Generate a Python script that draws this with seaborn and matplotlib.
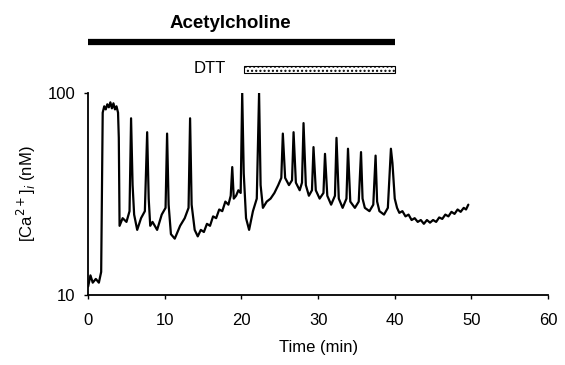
import matplotlib
matplotlib.use("Agg")
import matplotlib.pyplot as plt
import matplotlib.transforms as mtransforms
from matplotlib.patches import Rectangle
import seaborn as sns
import pandas as pd

# ---- data ----
time_min = [0, 0.3, 0.6, 1.0, 1.4, 1.7, 1.9, 2.1, 2.3, 2.5, 2.7, 2.9, 3.1, 3.3,
            3.5, 3.7, 3.9, 4.0, 4.1, 4.5, 5.0, 5.4, 5.6, 5.8, 6.0, 6.4, 6.9, 7.4,
            7.7, 7.9, 8.1, 8.4, 9.0, 9.6, 10.1, 10.3, 10.5, 10.8, 11.3, 12.0, 12.6,
            13.1, 13.3, 13.5, 13.9, 14.3, 14.7, 15.1, 15.5, 15.9, 16.3, 16.7, 17.1,
            17.5, 17.9, 18.3, 18.6, 18.8, 19.0, 19.3, 19.6, 19.9, 20.1, 20.3, 20.6,
            21.0, 21.5, 22.0, 22.3, 22.5, 22.8, 23.3, 23.8, 24.3, 24.8, 25.2, 25.4,
            25.7, 26.2, 26.6, 26.8, 27.1, 27.6, 27.9, 28.1, 28.4, 28.8, 29.2, 29.4,
            29.7, 30.2, 30.7, 30.9, 31.2, 31.7, 32.2, 32.4, 32.7, 33.2, 33.7, 33.9,
            34.2, 34.8, 35.3, 35.6, 35.8, 36.1, 36.7, 37.2, 37.5, 37.7, 38.0, 38.6,
            39.1, 39.5, 39.7, 40.0, 40.3, 40.6, 41.0, 41.4, 41.8, 42.2, 42.6, 43.0,
            43.4, 43.8, 44.2, 44.6, 45.0, 45.4, 45.8, 46.2, 46.6, 47.0, 47.4, 47.8,
            48.2, 48.6, 49.0, 49.3, 49.6]
ca_nM = [11, 12.5, 11.5, 12, 11.5, 13, 80, 86, 83, 88, 85, 90, 84, 89,
         83, 86, 80, 60, 22, 24, 23, 26, 75, 35, 25, 21, 24, 26,
         64, 30, 22, 23, 21, 25, 27, 63, 28, 20, 19, 22, 24,
         27, 75, 28, 21, 19.5, 21, 20.5, 22.5, 22, 24.5, 24, 26.5,
         26, 29, 28, 31, 43, 30, 31, 33, 32, 100, 40, 24,
         21, 26, 30, 100, 35, 27, 29, 30, 32, 35, 38, 63,
         38, 35, 37, 64, 36, 33, 36, 71, 35, 31, 33, 54,
         33, 30, 32, 50, 31, 28, 31, 60, 30, 27, 30, 53,
         29, 27, 29, 51, 30, 27, 26, 28, 49, 29, 26, 25,
         27, 53, 45, 30, 27, 25.5, 26, 24.5, 25, 23.5, 24, 23,
         23.5, 22.5, 23.5, 22.8, 23.5, 23, 24.2, 23.8, 25, 24.5, 25.8, 25.2,
         26.5, 25.8, 27, 26.5, 28]

x_ticks = [0, 10, 20, 30, 40, 50, 60]
y_ticks = [10, 100]
ach_span = (0, 40)
dtt_span = (20.3, 40)

df = pd.DataFrame({"Time (min)": time_min, "Ca": ca_nM})

sns.set_theme(style="ticks")
plt.rcParams["font.family"] = ["Liberation Sans", "DejaVu Sans"]

fig = plt.figure(figsize=(5.65, 3.65), dpi=100)
ax = fig.add_axes([0.156, 0.192, 0.814, 0.553])

sns.lineplot(data=df, x="Time (min)", y="Ca", ax=ax, color="black",
             linewidth=1.6, estimator=None, sort=False)

ax.set_yscale("log")
ax.set_xlim(0, 60)
ax.set_ylim(10, 100)
ax.set_xticks(x_ticks)
ax.set_xticklabels([str(v) for v in x_ticks])
ax.set_yticks(y_ticks)
ax.set_yticklabels([str(v) for v in y_ticks])
ax.yaxis.set_minor_locator(matplotlib.ticker.NullLocator())
ax.tick_params(axis="both", labelsize=12, length=3, width=1, colors="black")
ax.tick_params(axis="x", pad=10)
ax.tick_params(axis="y", pad=6)
ax.set_xlabel("Time (min)", fontsize=12, color="black", labelpad=9)
ax.set_ylabel(r"[Ca$^{2+}$]$_i$ (nM)", fontsize=12, color="black", labelpad=7)
for s in ["top", "right"]:
    ax.spines[s].set_visible(False)
for s in ["left", "bottom"]:
    ax.spines[s].set_color("black")
    ax.spines[s].set_linewidth(1.3)

trans = mtransforms.blended_transform_factory(ax.transData, ax.transAxes)
ax.plot(list(ach_span), [1.252, 1.252], color="black", linewidth=4.5,
        transform=trans, clip_on=False, solid_capstyle="butt")
ax.text(18.5, 1.322, "Acetylcholine", transform=trans, ha="center", va="baseline",
        fontsize=13.5, fontweight="bold", color="black")
ax.add_patch(Rectangle((dtt_span[0], 1.097), dtt_span[1] - dtt_span[0], 0.035,
                       transform=trans, clip_on=False, facecolor="white",
                       edgecolor="black", hatch="....", linewidth=0.8))
ax.text(15.9, 1.124, "DTT", transform=trans, ha="center", va="center",
        fontsize=12, color="black")

fig.savefig("out.png", dpi=100)
